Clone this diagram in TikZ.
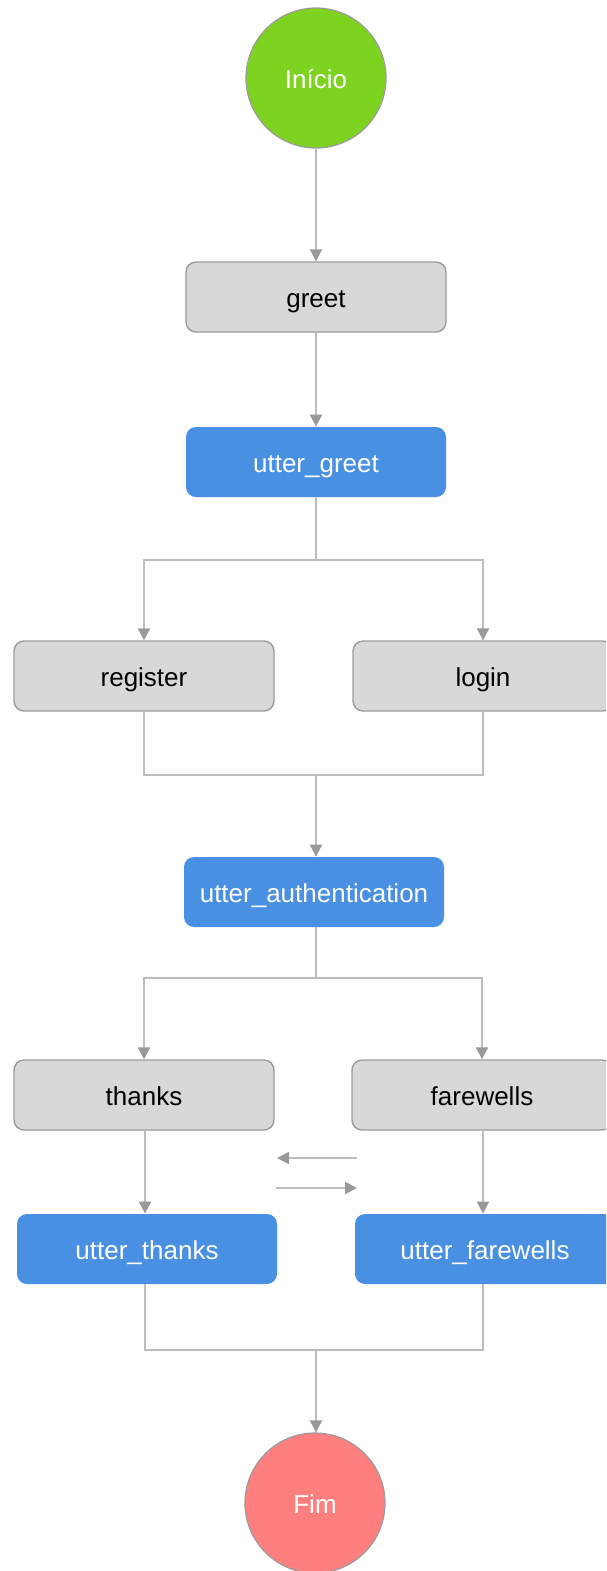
\documentclass[tikz,border=0pt]{standalone}
\usepackage{fontspec}
\setmainfont{Liberation Sans}
\usetikzlibrary{arrows.meta}

\definecolor{startgreen}{HTML}{7ED321}
\definecolor{endred}{HTML}{FF7F7F}
\definecolor{actionblue}{HTML}{4A90E2}
\definecolor{intentgray}{HTML}{D8D8D8}
\definecolor{boxline}{HTML}{9B9B9B}
\definecolor{linegray}{HTML}{BDBDBD}
\definecolor{tipgray}{HTML}{999999}

\tikzset{
  every node/.style = {font=\fontsize{13pt}{15pt}\selectfont, text height=10.8pt, text depth=0pt},
  intent/.style = {draw=boxline, fill=intentgray, line width=.7pt, rounded corners=5pt,
                   minimum width=130pt, minimum height=35pt, text=black},
  action/.style = {fill=actionblue, rounded corners=5pt,
                   minimum width=130pt, minimum height=35pt, text=white},
  terminal/.style = {circle, draw=boxline, line width=.6pt, minimum size=70pt,
                     inner sep=0pt, text=white},
  flow/.style = {draw=linegray, line width=1pt},
  arrow/.style = {flow, -{Triangle[width=6pt,length=6pt,color=tipgray]}}
}

\begin{document}
\begin{tikzpicture}[x=.5pt, y=-.5pt]
\useasboundingbox (0,0) rectangle (606,1571);
\clip (0,0) rectangle (606,1571);

\node [terminal, fill=startgreen] (inicio) at (316,78) {Início};
\node [intent] (greet) at (316,297) {greet};
\node [action] (ugreet) at (316,462) {utter\_greet};
\node [intent] (register) at (144,676) {register};
\node [intent] (login) at (483,676) {login};
\node [action] (uauth) at (314,892) {utter\_authentication};
\node [intent] (thanks) at (144,1095) {thanks};
\node [intent] (farewells) at (482,1095) {farewells};
\node [action] (uthanks) at (147,1249) {utter\_thanks};
\node [action] (ufarewells) at (485,1249) {utter\_farewells};
\node [terminal, fill=endred] (fim) at (315,1503) {Fim};

% split and merge points
\coordinate (split1) at (316,560);
\coordinate (merge1) at (316,775);
\coordinate (split2) at (316,978);
\coordinate (merge2) at (316,1350);

\draw [arrow] (inicio) -- (greet);
\draw [arrow] (greet) -- (ugreet);

\draw [flow] (ugreet) -- (split1);
\draw [arrow] (split1) -| (register);
\draw [arrow] (split1) -| (login);
\draw [flow] (register) |- (merge1);
\draw [flow] (login) |- (merge1);
\draw [arrow] (merge1) -- (merge1 |- uauth.north);

\draw [flow] (uauth.south -| split2) -- (split2);
\draw [arrow] (split2) -| (thanks);
\draw [arrow] (split2) -| (farewells);
\draw [arrow] (thanks.south -| 145,0) -- (uthanks.north -| 145,0);
\draw [arrow] (farewells.south -| 483,0) -- (ufarewells.north -| 483,0);

% back and forth between the two branches
\coordinate (swapR1) at (357,1158);
\coordinate (swapL1) at (277,1158);
\coordinate (swapL2) at (276,1188);
\coordinate (swapR2) at (357,1188);
\draw [arrow] (swapR1) -- (swapL1);
\draw [arrow] (swapL2) -- (swapR2);

\draw [flow] (uthanks.south -| 145,0) |- (merge2);
\draw [flow] (ufarewells.south -| 483,0) |- (merge2);
\draw [arrow] (merge2) -- (merge2 |- fim.north);
\end{tikzpicture}
\end{document}
